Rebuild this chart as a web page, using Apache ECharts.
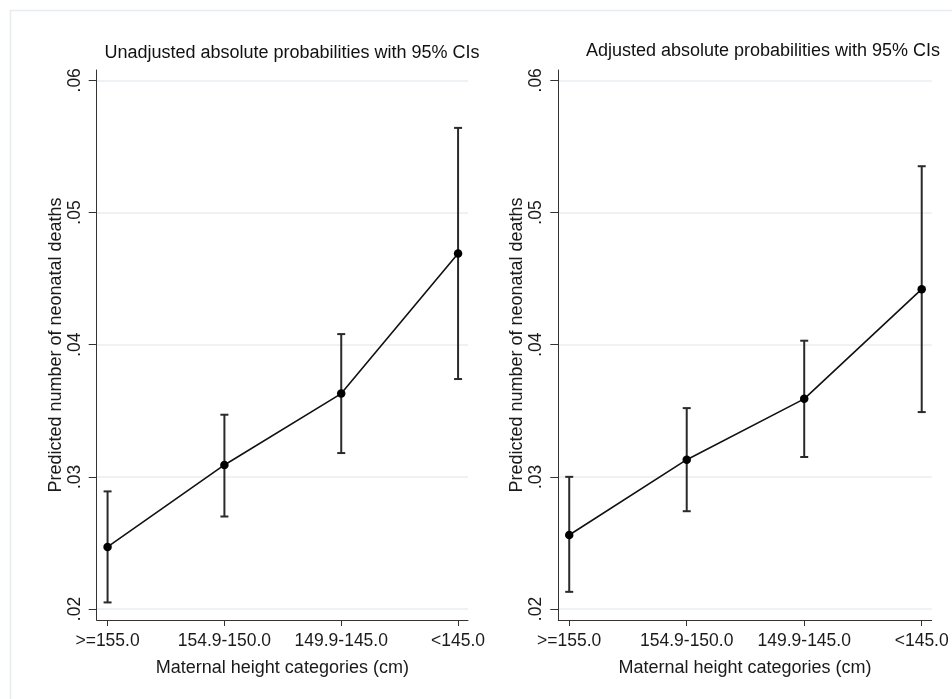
<!DOCTYPE html>
<html>
<head>
<meta charset="utf-8">
<script src="https://cdn.jsdelivr.net/npm/echarts@6/dist/echarts.min.js"></script>
<style>
html,body{margin:0;padding:0;background:#fff;}
#chart{width:952px;height:699px;}
</style>
</head>
<body>
<div id="chart"></div>
<script>
const categories = ['>=155.0', '154.9-150.0', '149.9-145.0', '<145.0'];
const unadjEst  = [0.0247, 0.0309, 0.0363, 0.0469];
const unadjLow  = [0.0205, 0.0270, 0.0318, 0.0374];
const unadjHigh = [0.0289, 0.0347, 0.0408, 0.0564];
const adjEst    = [0.0256, 0.0313, 0.0359, 0.0442];
const adjLow    = [0.0213, 0.0274, 0.0315, 0.0349];
const adjHigh   = [0.0300, 0.0352, 0.0403, 0.0535];
const yTicks = [0.02, 0.03, 0.04, 0.05, 0.06];
const titles = ['Unadjusted absolute probabilities with 95% CIs', 'Adjusted absolute probabilities with 95% CIs'];
const yTitle = 'Predicted number of neonatal deaths';
const xTitle = 'Maternal height categories (cm)';

const FONT = 'Liberation Sans, Arial, sans-serif';
const catIdx = categories.map((c, i) => i);

const chart = echarts.init(document.getElementById('chart'), null, {renderer: 'canvas'});

function xAxisDef(gi) {
  return {
    type: 'value', gridIndex: gi, min: -0.093, max: 3.085,
    axisLine: {show: true, onZero: false, lineStyle: {color: '#333', width: 1}},
    axisTick: {show: true, customValues: catIdx, length: 6, lineStyle: {color: '#333'}},
    axisLabel: {customValues: catIdx, formatter: v => categories[Math.round(v)], color: '#1a1a1a',
      fontFamily: FONT, fontSize: 17.5, margin: 12},
    splitLine: {show: false},
    name: xTitle, nameLocation: 'middle', nameGap: 39,
    nameTextStyle: {color: '#1a1a1a', fontFamily: FONT, fontSize: 18}
  };
}
function yAxisDef(gi) {
  return {
    type: 'value', gridIndex: gi, min: 0.01917, max: 0.06078,
    axisLine: {show: true, onZero: false, lineStyle: {color: '#333', width: 1}},
    axisTick: {show: true, customValues: yTicks, length: 8, lineStyle: {color: '#333'}},
    axisLabel: {customValues: yTicks, rotate: 90, formatter: v => v.toFixed(2).replace(/^0/, ''),
      color: '#1a1a1a', fontFamily: FONT, fontSize: 17.5, margin: 13},
    splitLine: {show: true, lineStyle: {color: '#e8eef2', width: 1.5}},
    name: yTitle, nameLocation: 'middle', nameGap: 31,
    nameTextStyle: {color: '#1a1a1a', fontFamily: FONT, fontSize: 18}
  };
}

function errSeries(gi, low, high) {
  return {
    type: 'custom', xAxisIndex: gi, yAxisIndex: gi,
    data: catIdx.map(i => [i, low[i], high[i]]),
    encode: {x: 0, y: [1, 2]},
    z: 2,
    renderItem: function (params, api) {
      const x = api.value(0);
      const lo = api.coord([x, api.value(1)]);
      const hi = api.coord([x, api.value(2)]);
      const hw = 4;
      const st = {stroke: '#2a2a2a', lineWidth: 2};
      return {
        type: 'group',
        children: [
          {type: 'line', shape: {x1: lo[0], y1: lo[1], x2: hi[0], y2: hi[1]}, style: st},
          {type: 'line', shape: {x1: lo[0] - hw, y1: lo[1], x2: lo[0] + hw, y2: lo[1]}, style: st},
          {type: 'line', shape: {x1: hi[0] - hw, y1: hi[1], x2: hi[0] + hw, y2: hi[1]}, style: st}
        ]
      };
    }
  };
}
function lineSeries(gi, est) {
  return {
    type: 'line', xAxisIndex: gi, yAxisIndex: gi,
    data: catIdx.map(i => [i, est[i]]),
    symbol: 'circle', symbolSize: 8.5, showSymbol: true,
    lineStyle: {color: '#111', width: 1.6},
    itemStyle: {color: '#000'},
    z: 3, animation: false
  };
}

chart.setOption({
  animation: false,
  backgroundColor: '#ffffff',
  grid: [
    {left: 96.7, right: 952 - 468, top: 70, bottom: 699 - 620},
    {left: 558.3, right: 952 - 931.7, top: 70, bottom: 699 - 620}
  ],
  xAxis: [xAxisDef(0), xAxisDef(1)],
  yAxis: [yAxisDef(0), yAxisDef(1)],
  series: [
    errSeries(0, unadjLow, unadjHigh), lineSeries(0, unadjEst),
    errSeries(1, adjLow, adjHigh), lineSeries(1, adjEst)
  ],
  graphic: [
    {type: 'rect', x: 10.5, y: 10.5, shape: {x: 0, y: 0, width: 960, height: 720},
      style: {fill: 'none', stroke: '#e6ecf0', lineWidth: 1.5}, silent: true, z: -10},
    {type: 'text', x: 292, y: 53, style: {text: titles[0], fill: '#111', font: '18px ' + FONT,
      textAlign: 'center', textVerticalAlign: 'middle'}},
    {type: 'text', x: 763, y: 51, style: {text: titles[1], fill: '#111', font: '18px ' + FONT,
      textAlign: 'center', textVerticalAlign: 'middle'}}
  ]
});
</script>
</body>
</html>
